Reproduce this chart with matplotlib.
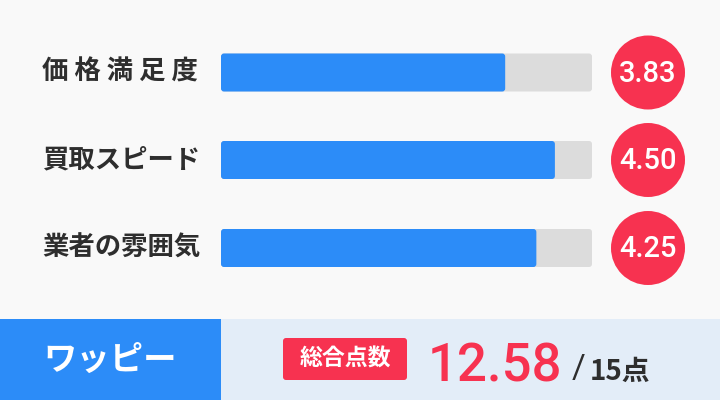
import matplotlib
matplotlib.use("Agg")
import matplotlib.pyplot as plt
from matplotlib.patches import FancyBboxPatch, Circle, Rectangle

# ---- data ----
categories = ["価 格 満 足 度", "買取スピード", "業者の雰囲気"]
scores = [3.83, 4.50, 4.25]
max_score = 5
score_labels = ["3.83", "4.50", "4.25"]
company = "ワッピー"
total_badge = "総合点数"
total_score = 12.58
total_max = 15

# ---- styles ----
BG = "#F9F9F9"
BLUE = "#2C8CF8"
RED = "#F73250"
TRACK = "#DCDCDC"
PANEL = "#E3EDF8"
DARK = "#2E2E2E"
JP = ["Noto Sans CJK JP", "DejaVu Sans"]
NUM = ["Roboto", "DejaVu Sans"]

W, H = 720, 400
fig = plt.figure(figsize=(W / 100, H / 100), dpi=100, facecolor=BG)

# pixel-space canvas axes
ax = fig.add_axes([0, 0, 1, 1])
ax.set_xlim(0, W)
ax.set_ylim(H, 0)
ax.axis("off")
ax.set_facecolor(BG)

row_y = [72.5, 160, 248]
bar_h = 38
track_x0, track_x1 = 221, 592

# bar axes: x in score units
bx = fig.add_axes([track_x0 / W, 0, (track_x1 - track_x0) / W, 1])
bx.set_xlim(0, max_score)
bx.set_ylim(H, 0)
bx.axis("off")
bx.patch.set_alpha(0)

px_per_unit = (track_x1 - track_x0) / max_score
r = 3 / px_per_unit
aspect = px_per_unit  # y units (px) per x unit

for yc, v in zip(row_y, scores):
    bx.add_patch(FancyBboxPatch((0, yc - bar_h / 2), max_score, bar_h,
                                boxstyle=f"round,pad=0,rounding_size={r}",
                                mutation_aspect=aspect, fc=TRACK, ec="none"))
    bx.add_patch(FancyBboxPatch((0, yc - bar_h / 2), v, bar_h,
                                boxstyle=f"round,pad=0,rounding_size={r}",
                                mutation_aspect=aspect, fc=BLUE, ec="none"))

for yc, lab, sl in zip(row_y, categories, score_labels):
    ax.text(42, yc, lab, family=JP, fontsize=19, fontweight="bold",
            color=DARK, ha="left", va="center")
    ax.add_patch(Circle((648, yc), 37, fc=RED, ec="none"))
    ax.text(648, yc + 1, sl, family=NUM, fontsize=21, fontweight="medium",
            color="white", ha="center", va="center")

# bottom panel
ax.add_patch(Rectangle((0, 319), 221, 81, fc=BLUE, ec="none"))
ax.add_patch(Rectangle((221, 319), 499, 81, fc=PANEL, ec="none"))
ax.text(110.5, 360, company, family=JP, fontsize=24, fontweight="bold",
        color="white", ha="center", va="center")

ax.add_patch(FancyBboxPatch((283, 338), 124, 42,
                            boxstyle="round,pad=0,rounding_size=3",
                            fc=RED, ec="none"))
ax.text(345, 359.5, total_badge, family=JP, fontsize=16.5, fontweight="bold",
        color="white", ha="center", va="center")

ax.text(428, 382, f"{total_score:.2f}", family=NUM, fontsize=38,
        fontweight="medium", color=RED, ha="left", va="baseline")
ax.text(572, 378, "/", family=NUM, fontsize=24, fontweight="normal",
        color=DARK, ha="left", va="baseline")
ax.text(590, 380, f"{total_max}点", family=JP, fontsize=20,
        fontweight="bold", color=DARK, ha="left", va="baseline")

fig.savefig("out.png", dpi=100, facecolor=BG)
